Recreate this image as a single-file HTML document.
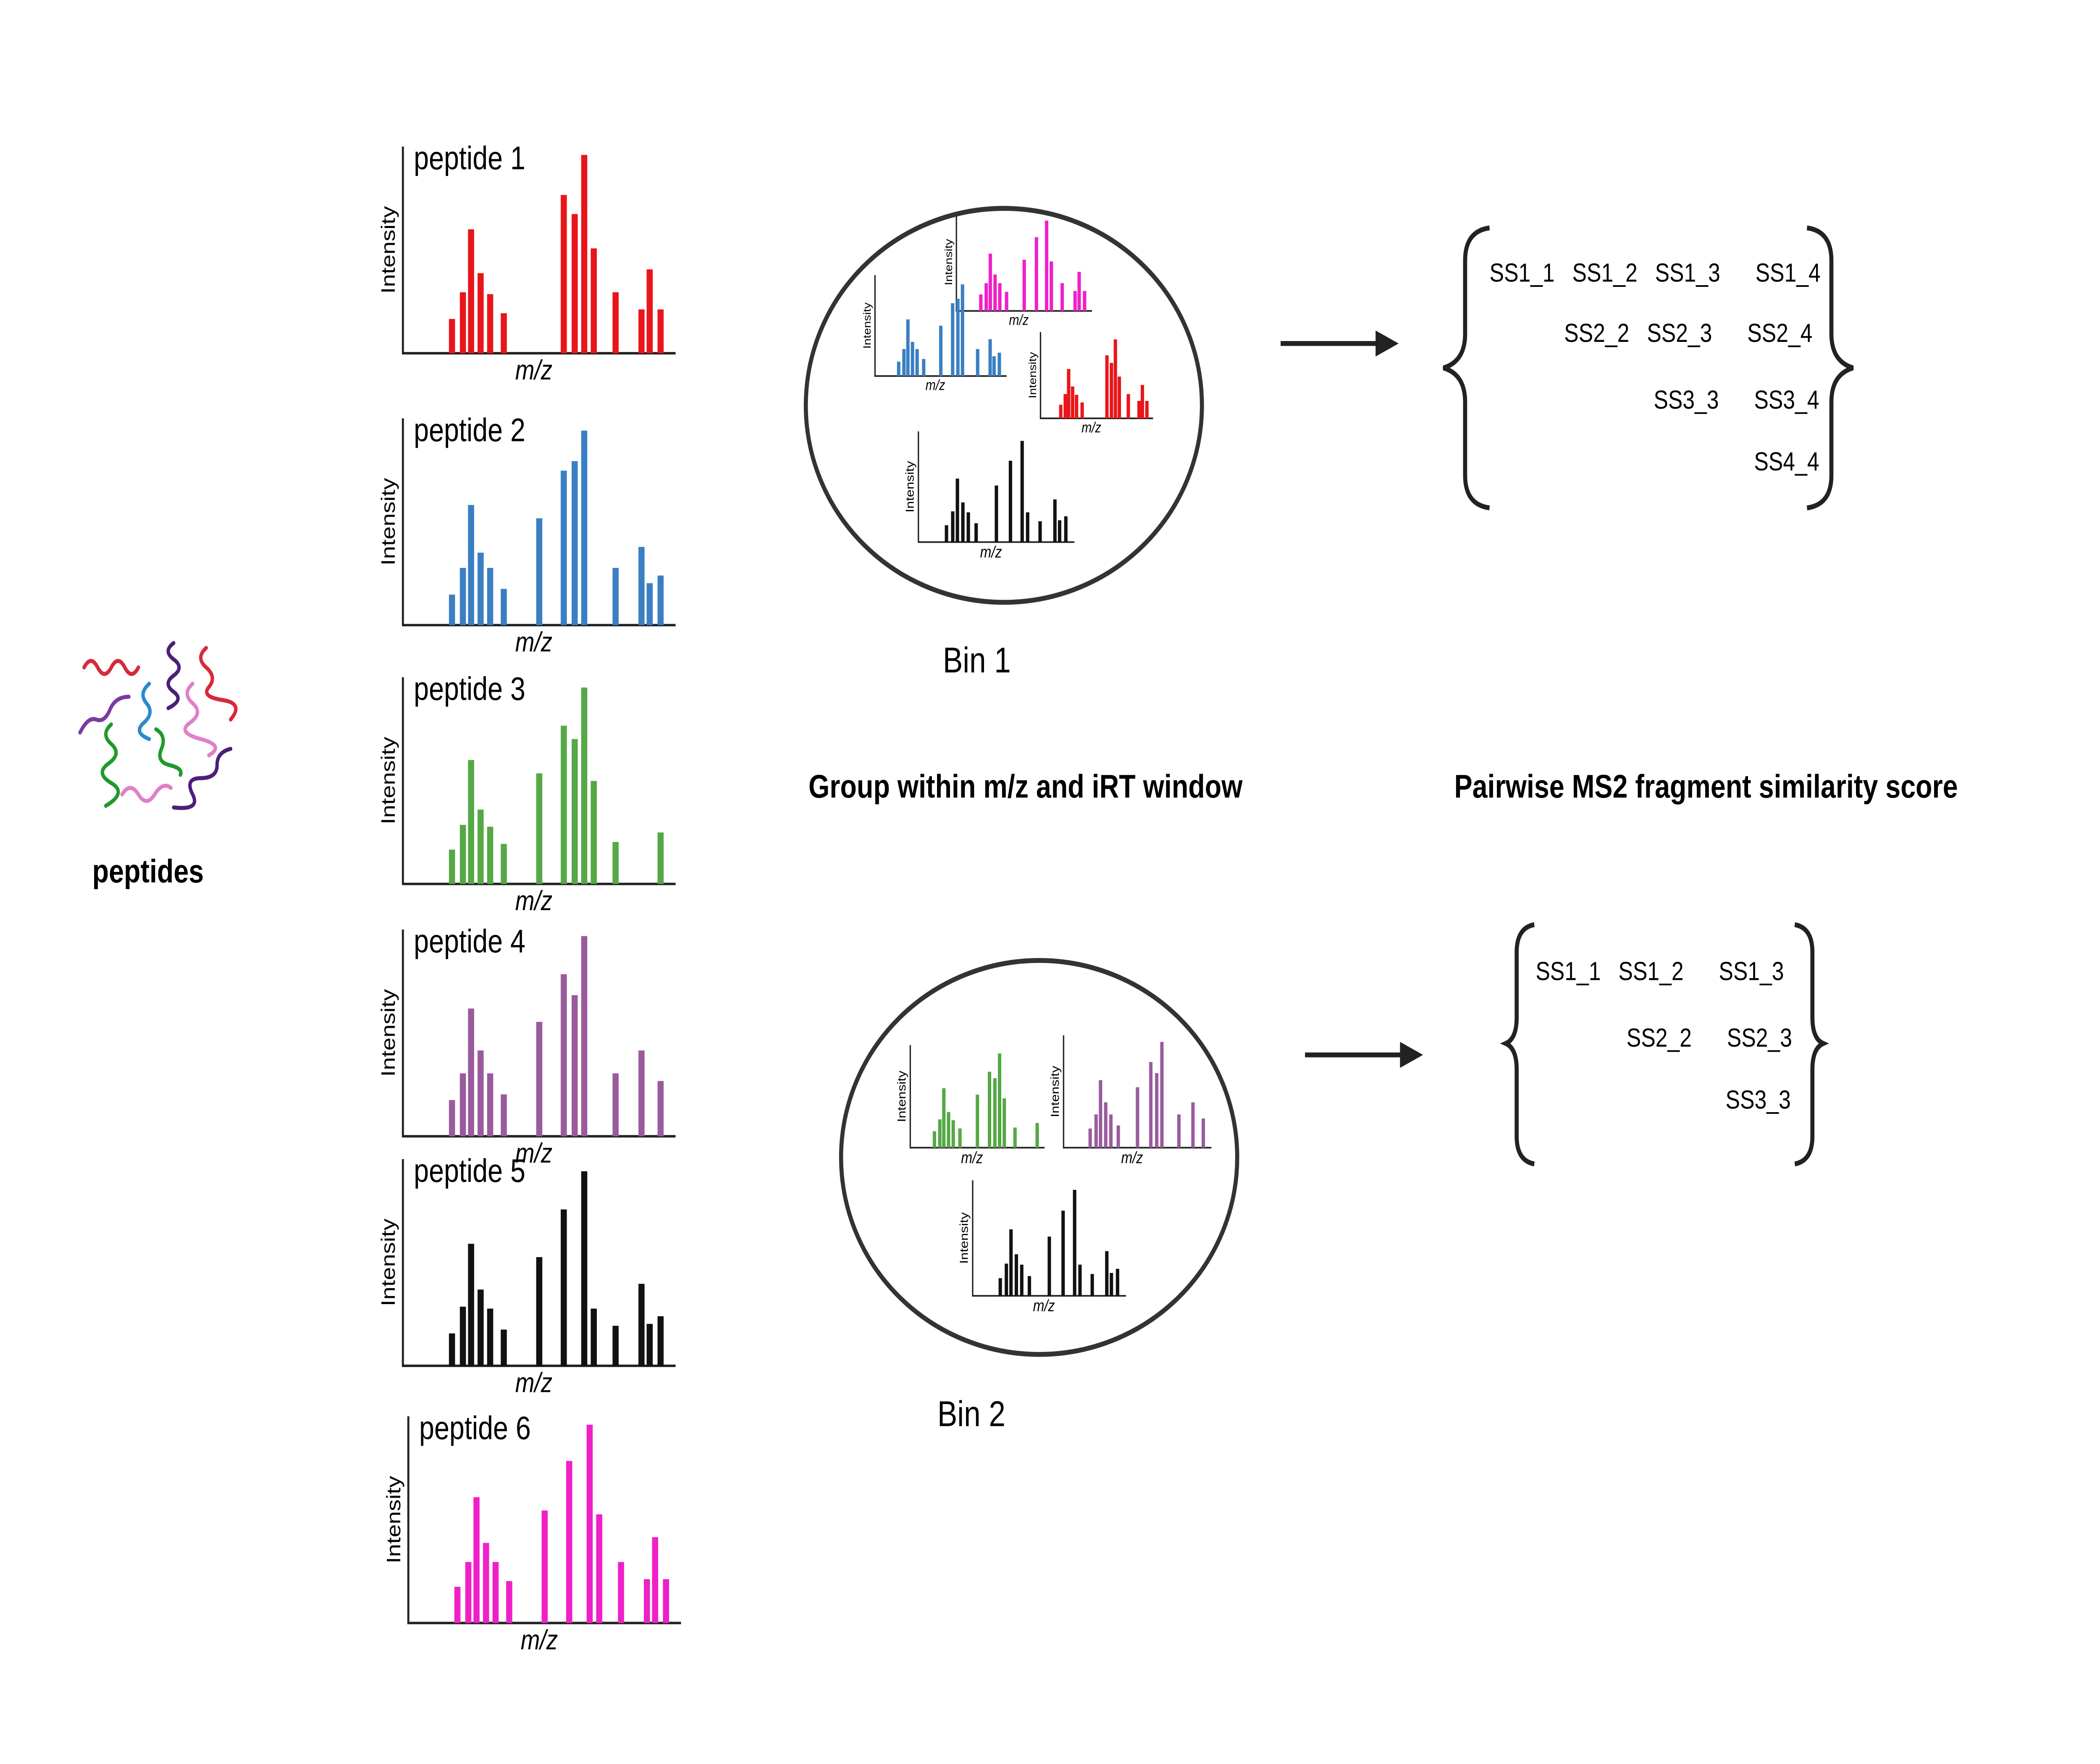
<!DOCTYPE html>
<html><head><meta charset="utf-8"><style>
html,body{margin:0;padding:0;background:#fff;overflow:hidden;width:100%;height:100%;}
svg{display:block;width:100vw;height:100vh;}
text{font-family:"Liberation Sans",sans-serif;}
</style></head><body>
<svg id="fig" viewBox="0 0 1548 1083.6" preserveAspectRatio="none" xmlns="http://www.w3.org/2000/svg">
<rect width="1548" height="1083.6" fill="#fff"/>
<g id="squiggles" fill="none" stroke-width="2.5" stroke-linecap="round">
<path d="M62 410 q5 -8 10 0 t10 0 t10 0 t10 0" stroke="#d62a3a"/>
<path d="M128 395 q-8 5 0 10 t0 10 t0 10 t-4 10" stroke="#4b1f7a"/>
<path d="M152 398 q-8 6 0 12 t2 12 t10 8 t6 12" stroke="#d62a3a"/>
<path d="M110 420 q-8 6 -2 12 t-2 12 t4 10" stroke="#2a8ad0"/>
<path d="M142 420 q-8 6 0 12 t-2 12 t8 10 t6 10" stroke="#e080c8"/>
<path d="M95 428 q-10 0 -14 8 t-10 6 t-12 8" stroke="#7a3aa0"/>
<path d="M82 445 q-8 6 0 12 t-2 12 t2 12 t-4 14" stroke="#1e9a2a"/>
<path d="M115 448 q8 4 4 12 t6 10 t8 6" stroke="#1e9a2a"/>
<path d="M90 488 q6 -8 12 0 t12 0 t12 -4" stroke="#e080c8"/>
<path d="M170 460 q-10 2 -10 10 t-12 8 t-6 10 t-14 8" stroke="#4b1f7a"/>
</g>
<text x="68" y="542" font-size="20" font-weight="bold">peptides</text>
<g id="panels"></g>
<ellipse cx="740" cy="249" rx="146" ry="121" fill="none" stroke="#333" stroke-width="3"/>
<ellipse cx="766" cy="711" rx="146" ry="121" fill="none" stroke="#333" stroke-width="3"/>
<text x="695" y="413" font-size="22">Bin 1</text>
<text x="691" y="876" font-size="22">Bin 2</text>
<text x="596" y="490" font-size="20" font-weight="bold">Group within m/z and iRT window</text>
<text x="1072" y="490" font-size="20" font-weight="bold">Pairwise MS2 fragment similarity score</text>
<g><line x1="944" y1="211" x2="1016" y2="211" stroke="#222" stroke-width="3"/><polygon points="1014,203 1031,211 1014,219" fill="#222"/></g>
<g><line x1="962" y1="648" x2="1034" y2="648" stroke="#222" stroke-width="3"/><polygon points="1032,640 1049,648 1032,656" fill="#222"/></g>
<g fill="none" stroke="#222" stroke-width="3">
<path d="M1098 140 Q1080 142 1080 160 L1080 205 Q1080 222 1064 226 Q1080 230 1080 247 L1080 292 Q1080 310 1098 312"/>
<path d="M1332 140 Q1350 142 1350 160 L1350 205 Q1350 222 1366 226 Q1350 230 1350 247 L1350 292 Q1350 310 1332 312"/>
<path d="M1131 568 Q1118 570 1118 585 L1118 625 Q1118 638 1110 641 Q1118 644 1118 657 L1118 698 Q1118 713 1131 715"/>
<path d="M1323 568 Q1336 570 1336 585 L1336 625 Q1336 638 1344 641 Q1336 644 1336 657 L1336 698 Q1336 713 1323 715"/>
</g>
<g font-size="16">
<text x="1098" y="173">SS1_1</text><text x="1159" y="173">SS1_2</text><text x="1220" y="173">SS1_3</text><text x="1294" y="173">SS1_4</text>
<text x="1153" y="210">SS2_2</text><text x="1214" y="210">SS2_3</text><text x="1288" y="210">SS2_4</text>
<text x="1219" y="251">SS3_3</text><text x="1293" y="251">SS3_4</text>
<text x="1293" y="289">SS4_4</text>
</g>
<g font-size="16">
<text x="1132" y="602">SS1_1</text><text x="1193" y="602">SS1_2</text><text x="1267" y="602">SS1_3</text>
<text x="1199" y="643">SS2_2</text><text x="1273" y="643">SS2_3</text>
<text x="1272" y="681">SS3_3</text>
</g>
</svg>
<script>
const mz = [18,22,25,28.5,32,37,50,55,59,63,66.5,70,78,87.5,90.5,94.5];
const pep1 = [18,32,65,42,31,21,0,0,83,73,104,55,32,23,44,23];
const pep2 = [16,30,63,38,30,19,56,0,81,86,102,0,30,41,22,26];
const pep3 = [18,31,65,39,30,21,58,0,83,76,103,54,22,0,0,27];
const pep4 = [19,33,67,45,33,22,60,0,85,74,105,0,33,45,0,29];
const pep5 = [17,31,64,40,30,19,57,0,82,0,102,30,21,43,22,26];
const pep6 = [19,32,66,42,32,22,59,0,85,0,104,57,32,23,45,23];
const colors = ['#e8161b','#3a7fc4','#55a845','#9a5b9d','#111111','#f020c8'];
const peps = [pep1,pep2,pep3,pep4,pep5,pep6];
const NS='http://www.w3.org/2000/svg';
const svg=document.getElementById('fig');
const panels=document.getElementById('panels');
function el(tag,attrs,parent){const e=document.createElementNS(NS,tag);for(const k in attrs)e.setAttribute(k,attrs[k]);(parent||svg).appendChild(e);return e;}
function spectrum(x0,base,w,h,data,color,bw,fs,title,name,lw){
  const g=el('g',{},panels);
  
  
  const sx=v=>x0+v/100*w, sy=v=>base-v/105*(h-4);
  el('path',{d:`M${x0} ${base-h} L${x0} ${base} L${x0+w} ${base}`,fill:'none',stroke:'#222','stroke-width':lw},g);
  data.forEach((v,i)=>{ if(v<=0) return;
    const r=el('rect',{x:sx(mz[i])-bw/2,y:sy(v),width:bw,height:base-sy(v),fill:color},g);
    
    
  });
  const t=el('text',{x:x0+w/2-4,y:base+fs*0.95,'font-size':fs,'font-style':'italic','text-anchor':'middle'},g); t.textContent='m/z';
  const it=el('text',{x:0,y:0,'font-size':fs*0.85,'text-anchor':'middle',transform:`translate(${x0-fs*0.35},${base-h/2}) rotate(-90)`},g); it.textContent='Intensity';
  if(title){const tt=el('text',{x:x0+8,y:base-h+14,'font-size':20},g); tt.textContent=title;}
}
const big=[[297,217],[297,384],[297,543],[297,698],[297,839],[301,997]];
big.forEach((p,i)=>spectrum(p[0],p[1],201,127,peps[i],colors[i],4.5,17,'peptide '+(i+1),'spectrum-peptide-'+(i+1),1.5));
spectrum(705,191,100,60,pep6,colors[5],2.5,9,null,'bin1-peptide-6',1);
spectrum(645,231,97,62,pep2,colors[1],2.5,9,null,'bin1-peptide-2',1);
spectrum(767,257,83,53,pep1,colors[0],2.5,9,null,'bin1-peptide-1',1);
spectrum(677,333,115,68,pep5,colors[4],2.5,10,null,'bin1-peptide-5',1);
spectrum(671,705,99,63,pep3,colors[2],2.5,10,null,'bin2-peptide-3',1);
spectrum(784,705,109,69,pep4,colors[3],2.5,10,null,'bin2-peptide-4',1);
spectrum(717,796,113,71,pep5,colors[4],2.5,10,null,'bin2-peptide-5',1);
</script>
</body></html>
